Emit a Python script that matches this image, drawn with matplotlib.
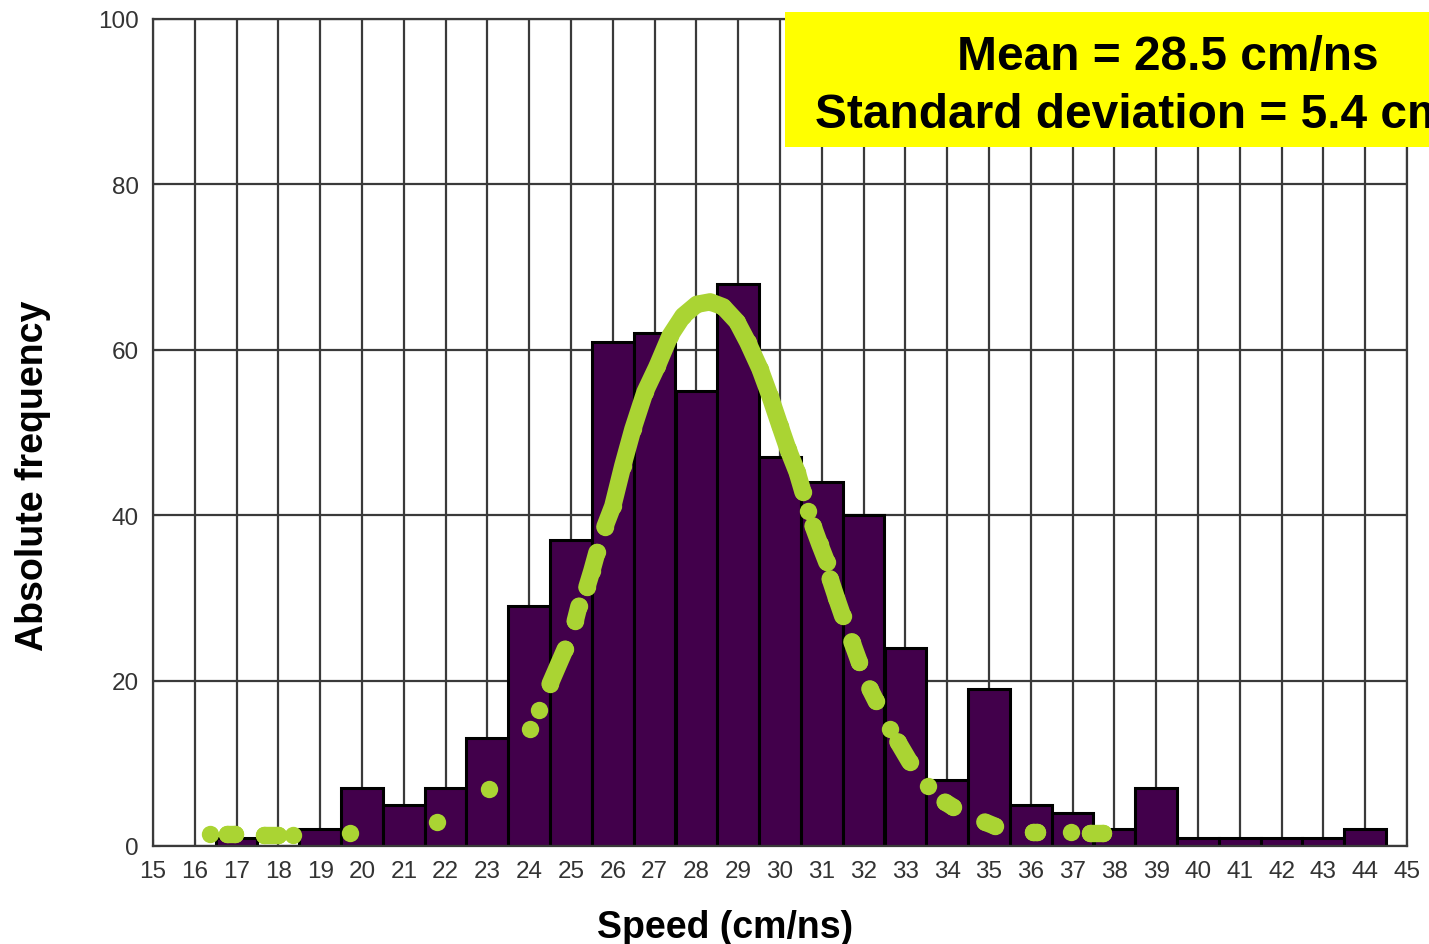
import matplotlib.pyplot as plt
from matplotlib.patches import Rectangle

plt.rcParams['font.family'] = ['Liberation Sans', 'DejaVu Sans']

# Histogram of measured speeds (bins of 1 cm/ns centred on integers)
speeds = [17, 18, 19, 20, 21, 22, 23, 24, 25, 26, 27, 28, 29, 30,
          31, 32, 33, 34, 35, 36, 37, 38, 39, 40, 41, 42, 43, 44]
counts = [1, 0, 2, 7, 5, 7, 13, 29, 37, 61, 62, 55, 68, 47,
          44, 40, 24, 8, 19, 5, 4, 2, 7, 1, 1, 1, 1, 2]

# Fitted normal curve, evaluated at the sample speeds (runs of overlapping dots)
fit_runs = [
    [(16.36, 1.4)],
    [(16.78, 1.4), (16.95, 1.4)],
    [(17.65, 1.35), (18.0, 1.35)],
    [(18.35, 1.35)],
    [(19.71, 1.6)],
    [(21.79, 2.9)],
    [(23.04, 6.9)],
    [(24.02, 14.1)],
    [(24.23, 16.4)],
    [(24.5, 19.6), (24.86, 23.8)],
    [(25.1, 27.2), (25.19, 29.0)],
    [(25.38, 31.3), (25.5, 33.3), (25.62, 35.5)],
    [(25.81, 38.6), (26.0, 41.1), (26.24, 46.0), (26.48, 50.4), (26.77, 54.9),
     (27.06, 58.0), (27.37, 61.7), (27.68, 64.1), (28.01, 65.5), (28.33, 65.8),
     (28.64, 65.2), (28.97, 63.4), (29.23, 60.9), (29.52, 57.7), (29.76, 54.4),
     (30.0, 50.8), (30.19, 48.0), (30.41, 45.2), (30.55, 42.8)],
    [(30.67, 40.5)],
    [(30.79, 38.7), (30.95, 36.5), (31.12, 34.3)],
    [(31.2, 32.3), (31.35, 30.0), (31.5, 27.8)],
    [(31.72, 24.7), (31.9, 22.2)],
    [(32.15, 19.0), (32.3, 17.5)],
    [(32.63, 14.1)],
    [(32.82, 12.6), (33.1, 10.2)],
    [(33.54, 7.3)],
    [(33.95, 5.3), (34.14, 4.7)],
    [(34.9, 2.9), (35.14, 2.4)],
    [(36.05, 1.7), (36.16, 1.7)],
    [(36.96, 1.7)],
    [(37.42, 1.6), (37.73, 1.6)],
]

mean_speed = 28.5
std_speed = 5.4

grid_col = '#3a3a3a'
fig = plt.figure(figsize=(14.29, 9.45), dpi=100)
ax = fig.add_axes([153 / 1429, 1 - 847 / 945, (1407 - 153) / 1429, (847 - 20) / 945])

ax.bar(speeds, counts, width=1.0, color='#42004b', edgecolor='black',
       linewidth=2.2, zorder=2)

for run in fit_runs:
    xs = [p[0] for p in run]
    ys = [p[1] for p in run]
    ax.plot(xs, ys, '-o', color='#aad433', lw=12.5, ms=12.5, mew=0,
            solid_capstyle='round', solid_joinstyle='round', zorder=3)

ax.set_xlim(15, 45)
ax.set_ylim(0, 100)
ax.set_xticks(range(15, 46))
ax.set_yticks(range(0, 101, 20))
ax.set_axisbelow(True)
ax.grid(True, color=grid_col, linewidth=1.6)
ax.tick_params(direction='in', length=5, color=grid_col, labelsize=17.5,
               labelcolor='#333333')
ax.tick_params(axis='x', pad=10)
ax.tick_params(axis='y', pad=10)
for s in ax.spines.values():
    s.set_color(grid_col)
    s.set_linewidth(1.6)

fig.text(725 / 1429, 1 - 938 / 945, 'Speed (cm/ns)', ha='center',
         va='baseline', fontsize=27, fontweight='bold')
fig.text(33 / 1429, 1 - 476 / 945, 'Absolute frequency', ha='center',
         va='center', rotation=90, fontsize=27, fontweight='bold')

# Summary statistics box, running off the right edge of the figure
fig.patches.append(Rectangle((785 / 1429, 1 - 148 / 945), 0.5, 135 / 945,
                             transform=fig.transFigure, facecolor='#ffff00',
                             edgecolor='none', zorder=5))
fig.text(957 / 1429, 1 - 70 / 945, f'Mean = {mean_speed} cm/ns',
         ha='left', va='baseline', fontsize=34.5, fontweight='bold', zorder=6)
fig.text(815 / 1429, 1 - 128 / 945, f'Standard deviation = {std_speed} cm/ns',
         ha='left', va='baseline', fontsize=34.5, fontweight='bold', zorder=6)

fig.savefig('out.png', dpi=100)
